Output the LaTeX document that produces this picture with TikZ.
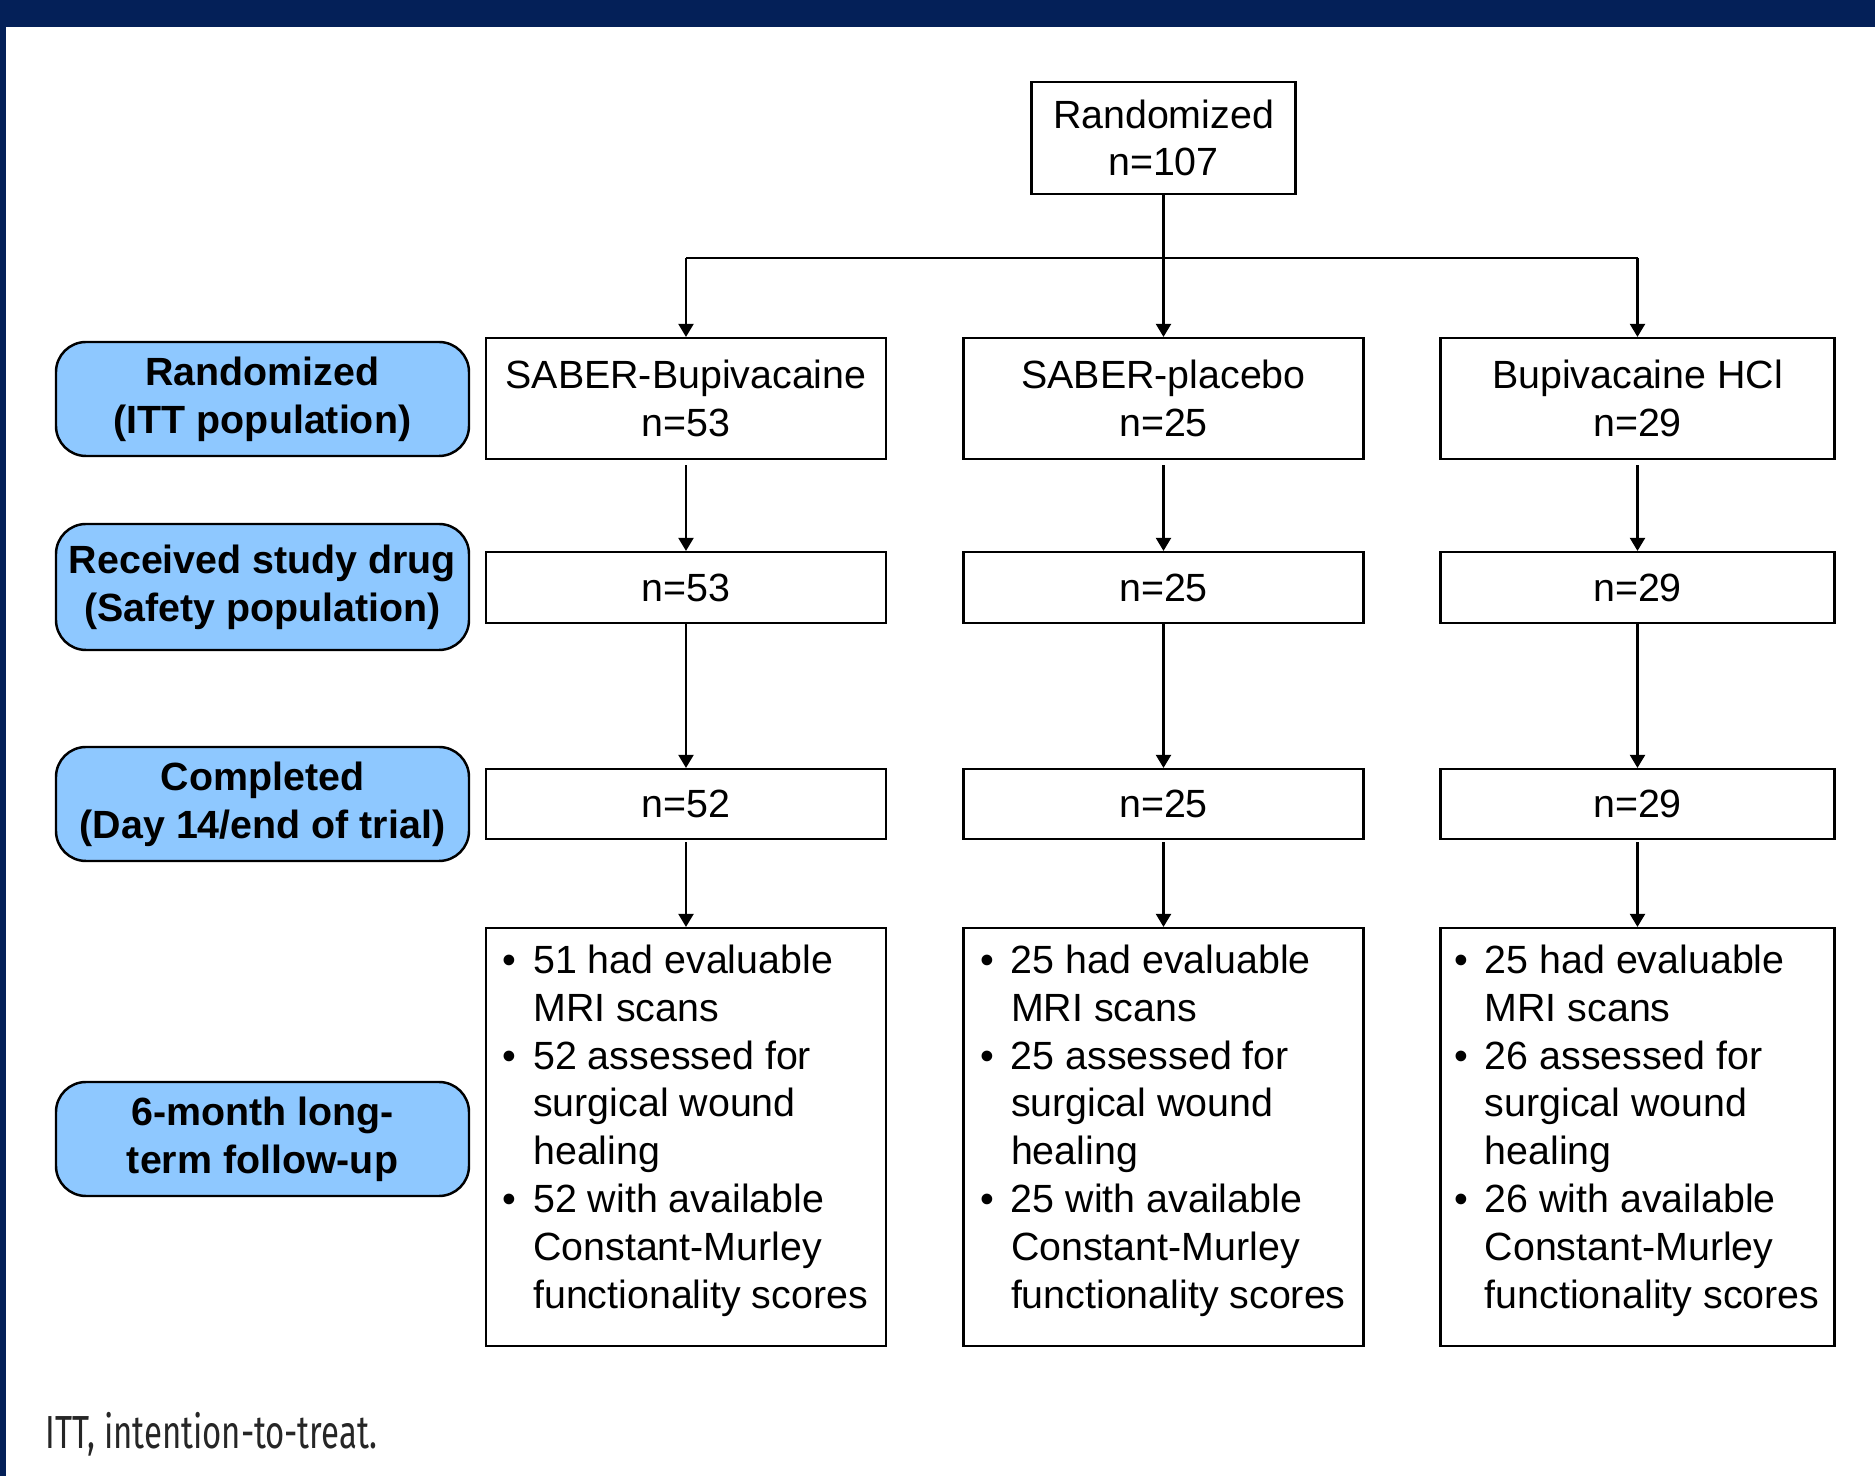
\documentclass[tikz,border=0pt]{standalone}
\usepackage{fontspec}
\setmainfont{Liberation Sans}
\newfontfamily\notafont{Fira Sans}[FakeStretch=0.71]
\usetikzlibrary{arrows.meta, positioning, calc}
\definecolor{azulFase}{RGB}{142, 200, 255}
\definecolor{azulMarino}{RGB}{4, 32, 88}
\newcommand{\letra}{\fontsize{11.2}{13.6}\selectfont}
\newcommand{\punto}[1]{\par\noindent\hangindent=0.305cm\hangafter=1\makebox[0.305cm][l]{\textbullet}#1}
\newcommand{\listado}[2]{\parbox[c][3.84cm][t]{#1}{\raggedright\parskip=0pt #2}}

\begin{document}
\begin{tikzpicture}[
        caja/.style={rectangle, draw, line width=0.6pt, minimum width=4cm, align=center, inner sep=0pt, font=\letra},
        fase/.style={rectangle, rounded corners=0.3cm, draw, line width=0.7pt, fill=azulFase, minimum width=4.13cm, minimum height=1.14cm, align=center, inner sep=0pt, font=\letra\bfseries},
        lista/.style={rectangle, draw, line width=0.6pt, inner xsep=0.17cm, inner ysep=0.17cm, font=\letra},
        flecha/.style={-{Triangle[width=0.15cm, length=0.13cm]}, line width=0.6pt}]
    \useasboundingbox (0,0) rectangle (18.75,-14.76);
    % marco
    \fill[azulMarino] (0,0) rectangle (18.75,-0.27);
    \fill[azulMarino] (0,-0.27) rectangle (0.06,-14.76);

    % fases
    \node[fase] (f1) at (2.625,-3.99) {Randomized\\(ITT population)};
    \node[fase, minimum height=1.26cm] (f2) at (2.625,-5.87) {Received study drug\\(Safety population)};
    \node[fase] (f3) at (2.625,-8.04) {Completed\\(Day 14/end of trial)};
    \node[fase] (f4) at (2.625,-11.39) {6-month long-\\term follow-up};

    % grupos
    \node[caja, minimum width=2.64cm, minimum height=1.115cm] (rand) at (11.635,-1.38) {Randomized\\n=107};
    \node[caja, minimum height=1.21cm] (g1) at (6.86,-3.985) {SABER-Bupivacaine\\n=53};
    \node[caja, minimum height=1.21cm] (g2) at (11.635,-3.985) {SABER-placebo\\n=25};
    \node[caja, minimum width=3.94cm, minimum height=1.21cm] (g3) at (16.375,-3.985) {Bupivacaine HCl\\n=29};

    \node[caja, minimum height=0.71cm] (s1) at (6.86,-5.875) {n=53};
    \node[caja, minimum height=0.71cm] (s2) at (11.635,-5.875) {n=25};
    \node[caja, minimum width=3.94cm, minimum height=0.71cm] (s3) at (16.375,-5.875) {n=29};

    \node[caja, minimum height=0.70cm] (c1) at (6.86,-8.04) {n=52};
    \node[caja, minimum height=0.70cm] (c2) at (11.635,-8.04) {n=25};
    \node[caja, minimum width=3.94cm, minimum height=0.70cm] (c3) at (16.375,-8.04) {n=29};

    \node[lista] (l1) at (6.86,-11.37) {\listado{3.665cm}{%
        \punto{51 had evaluable\newline MRI scans}%
        \punto{52 assessed for\newline surgical wound\newline healing}%
        \punto{52 with available\newline Constant-Murley\newline functionality~scores}}};
    \node[lista] (l2) at (11.635,-11.37) {\listado{3.66cm}{%
        \punto{25 had evaluable\newline MRI scans}%
        \punto{25 assessed for\newline surgical wound\newline healing}%
        \punto{25 with available\newline Constant-Murley\newline functionality~scores}}};
    \node[lista, inner xsep=0.1375cm] (l3) at (16.375,-11.37) {\listado{3.665cm}{%
        \punto{25 had evaluable\newline MRI scans}%
        \punto{26 assessed for\newline surgical wound\newline healing}%
        \punto{26 with available\newline Constant-Murley\newline functionality~scores}}};

    % conectores
    \coordinate (ramal) at (11.635,-2.58);
    \draw[line width=0.6pt] (rand.south) -- (ramal);
    \draw[line width=0.6pt] (g1.north |- ramal) -- (g3.north |- ramal);
    \draw[flecha] (g1.north |- ramal) -- (g1.north);
    \draw[flecha] (rand.south) -- (g2.north);
    \draw[flecha] (g3.north |- ramal) -- (g3.north);
    \foreach \i in {1,2,3} {
        \draw[flecha, shorten <=0.05cm] (g\i) -- (s\i);
        \draw[flecha] (s\i) -- (c\i);
        \draw[flecha, shorten <=0.02cm] (c\i) -- (l\i);
    }

    \node[font=\notafont\fontsize{13.2}{15}\selectfont, anchor=base west, inner sep=0pt, text=black!85] (nota) at (0.45,-14.49) {ITT, intention-to-treat.};
\end{tikzpicture}
\end{document}
